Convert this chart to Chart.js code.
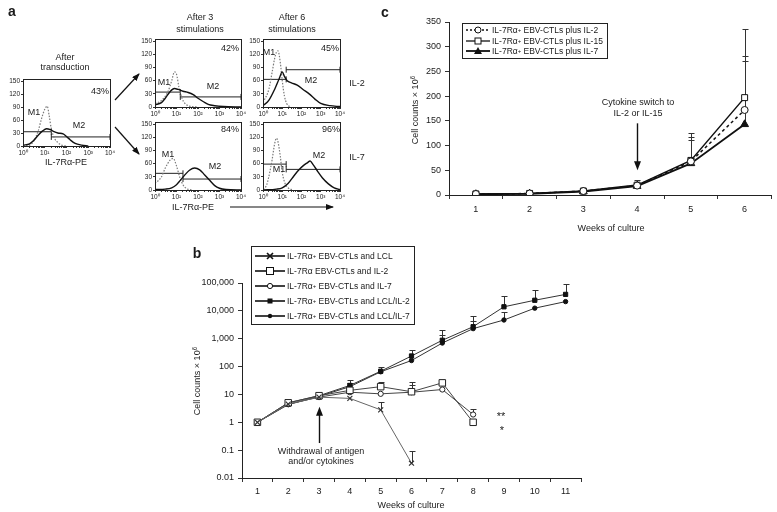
<!DOCTYPE html>
<html>
<head>
<meta charset="utf-8">
<script src="https://cdn.jsdelivr.net/npm/chart.js@4.4.0/dist/chart.umd.min.js"></script>
<style>
  body { margin: 0; background: #fff; }
  #fig { position: relative; width: 777px; height: 512px; overflow: hidden; background: #fff;
         font-family: 'Liberation Sans', Arial, sans-serif; color: #1a1a1a; }
  #fig canvas { position: absolute; }
  .t { position: absolute; white-space: nowrap; transform: translate(-50%, -50%); font-size: 9px; line-height: 1; }
  .pl { font-weight: bold; font-size: 14px; }
  .rot { transform: translate(-50%, -50%) rotate(-90deg); }
  .leg { position: absolute; border: 1px solid #222; background: #fff; padding: 1px 4px 1px 3px; }
  .leg .row { display: flex; align-items: center; white-space: nowrap; }
  .leg svg { flex: none; margin-right: 2px; }
  sup { font-size: 70%; vertical-align: 3px; line-height: 0; }
  #ov { position: absolute; left: 0; top: 0; }
</style>
</head>
<body>
<div id="fig">
  <canvas id="h1"></canvas>
  <canvas id="h2"></canvas>
  <canvas id="h3"></canvas>
  <canvas id="h4"></canvas>
  <canvas id="h5"></canvas>
  <canvas id="cb"></canvas>
  <canvas id="cc"></canvas>

  <svg id="ov" width="777" height="512">
    <defs>
      <marker id="ah" markerWidth="8" markerHeight="6" refX="7" refY="3" orient="auto" markerUnits="userSpaceOnUse">
        <path d="M0,0 L8,3 L0,6 z" fill="#111"/>
      </marker>
    </defs>
    <line x1="115" y1="100" x2="139" y2="74" stroke="#111" stroke-width="1.2" marker-end="url(#ah)"/>
    <line x1="115" y1="127" x2="139" y2="154" stroke="#111" stroke-width="1.2" marker-end="url(#ah)"/>
    <line x1="230" y1="207" x2="333" y2="207" stroke="#111" stroke-width="1.2" marker-end="url(#ah)"/>
  </svg>

  <!-- panel a text -->
  <div class="t pl" style="left:12px;top:11px">a</div>
  <div class="t" style="left:65px;top:57px">After</div>
  <div class="t" style="left:65px;top:67px">transduction</div>
  <div class="t" style="left:200px;top:17px">After 3</div>
  <div class="t" style="left:200px;top:29px">stimulations</div>
  <div class="t" style="left:292px;top:17px">After 6</div>
  <div class="t" style="left:292px;top:29px">stimulations</div>
  <div class="t" style="left:357px;top:83px">IL-2</div>
  <div class="t" style="left:357px;top:157px">IL-7</div>
  <div class="t" style="left:66px;top:162px">IL-7Rα-PE</div>
  <div class="t" style="left:193px;top:207px">IL-7Rα-PE</div>
  <div class="t" style="left:100px;top:91px">43%</div>
  <div class="t" style="left:230px;top:48px">42%</div>
  <div class="t" style="left:330px;top:48px">45%</div>
  <div class="t" style="left:230px;top:129px">84%</div>
  <div class="t" style="left:331px;top:129px">96%</div>
  <div class="t" style="left:34px;top:112px">M1</div>
  <div class="t" style="left:79px;top:125px">M2</div>
  <div class="t" style="left:164px;top:82px">M1</div>
  <div class="t" style="left:213px;top:86px">M2</div>
  <div class="t" style="left:269px;top:52px">M1</div>
  <div class="t" style="left:311px;top:80px">M2</div>
  <div class="t" style="left:168px;top:154px">M1</div>
  <div class="t" style="left:215px;top:166px">M2</div>
  <div class="t" style="left:279px;top:169px">M1</div>
  <div class="t" style="left:319px;top:155px">M2</div>

  <!-- panel b text -->
  <div class="t pl" style="left:197px;top:253px">b</div>
  <div class="t rot" style="left:197px;top:381px">Cell counts × 10<sup>6</sup></div>
  <div class="t" style="left:411px;top:505px">Weeks of culture</div>
  <div class="t" style="left:321px;top:451px">Withdrawal of antigen</div>
  <div class="t" style="left:321px;top:461px">and/or cytokines</div>
  <div class="t" style="left:501px;top:416px;font-size:11px">**</div>
  <div class="t" style="left:502px;top:430px;font-size:11px">*</div>

  <!-- panel c text -->
  <div class="t pl" style="left:385px;top:12px">c</div>
  <div class="t rot" style="left:415px;top:110px">Cell counts × 10<sup>6</sup></div>
  <div class="t" style="left:611px;top:228px">Weeks of culture</div>
  <div class="t" style="left:638px;top:102px">Cytokine switch to</div>
  <div class="t" style="left:638px;top:113px">IL-2 or IL-15</div>

  <div class="leg" style="left:251px;top:246px;font-size:8.5px">
    <div class="row" style="height:15px"><svg width="30" height="10"><line x1="0" y1="5" x2="30" y2="5" stroke="#111" stroke-width="1.6"/><path d="M12,2 L18,8 M18,2 L12,8" stroke="#111" stroke-width="1.6"/></svg>IL-7Rα<sup>+</sup>&nbsp;EBV-CTLs and LCL</div>
    <div class="row" style="height:15px"><svg width="30" height="10"><line x1="0" y1="5" x2="30" y2="5" stroke="#111" stroke-width="1.6"/><rect x="11.5" y="1.5" width="7" height="7" fill="#fff" stroke="#111"/></svg>IL-7Rα EBV-CTLs and IL-2</div>
    <div class="row" style="height:15px"><svg width="30" height="10"><line x1="0" y1="5" x2="30" y2="5" stroke="#111" stroke-width="1.6"/><circle cx="15" cy="5" r="2.6" fill="#fff" stroke="#111"/></svg>IL-7Rα<sup>+</sup>&nbsp;EBV-CTLs and IL-7</div>
    <div class="row" style="height:15px"><svg width="30" height="10"><line x1="0" y1="5" x2="30" y2="5" stroke="#111" stroke-width="1.6"/><rect x="12.5" y="2.5" width="5" height="5" fill="#111"/></svg>IL-7Rα<sup>+</sup>&nbsp;EBV-CTLs and LCL/IL-2</div>
    <div class="row" style="height:15px"><svg width="30" height="10"><line x1="0" y1="5" x2="30" y2="5" stroke="#111" stroke-width="1.6"/><circle cx="15" cy="5" r="2.2" fill="#111"/></svg>IL-7Rα<sup>+</sup>&nbsp;EBV-CTLs and LCL/IL-7</div>
  </div>

  <div class="leg" style="left:462px;top:23px;font-size:8.5px">
    <div class="row" style="height:10.5px"><svg width="24" height="10"><line x1="0" y1="5" x2="24" y2="5" stroke="#111" stroke-width="1.3" stroke-dasharray="2,2"/><circle cx="12" cy="5" r="3" fill="#fff" stroke="#111"/></svg>IL-7Rα<sup>+</sup>&nbsp;EBV-CTLs plus IL-2</div>
    <div class="row" style="height:10.5px"><svg width="24" height="10"><line x1="0" y1="5" x2="24" y2="5" stroke="#111" stroke-width="1.3"/><rect x="9" y="2" width="6" height="6" fill="#fff" stroke="#111"/></svg>IL-7Rα<sup>+</sup>&nbsp;EBV-CTLs plus IL-15</div>
    <div class="row" style="height:10.5px"><svg width="24" height="10"><line x1="0" y1="5" x2="24" y2="5" stroke="#111" stroke-width="1.8"/><path d="M12,1 L16,8 L8,8 z" fill="#111"/></svg>IL-7Rα<sup>+</sup>&nbsp;EBV-CTLs plus IL-7</div>
  </div>
</div>

<script>
// ---------- data: panel a (histograms, [fluorescence, events]) ----------
const histMajor = [1, 10, 100, 1000, 10000];
const histMajorLabels = ['10⁰', '10¹', '10²', '10³', '10⁴'];
const histYTicks = [0, 30, 60, 90, 120, 150];

const transDotted = [[1,0],[2,2],[3,10],[5,35],[7,62],[10,85],[13,92],[16,70],[20,40],[28,18],[40,8],[60,2],[100,0]];
const transSolid  = [[1,2],[2,5],[3,12],[5,25],[8,35],[12,40],[18,38],[25,34],[40,30],[70,28],[100,22],[150,14],[250,6],[500,2],[1000,0]];
const transGates  = [[1,20,33],[20,10000,21]];

const il2s3Dotted = [[1,8],[2,15],[4,35],[6,60],[8,80],[10,75],[13,45],[18,20],[25,8],[40,2],[100,0]];
const il2s3Solid  = [[1,5],[2,10],[3,20],[5,35],[8,42],[12,40],[20,36],[35,33],[60,28],[100,20],[180,12],[300,6],[600,3],[1500,1],[10000,0]];
const il2s3Gates  = [[1,15,34],[15,10000,23]];

const il2s6Dotted = [[1,10],[2,40],[3,80],[4,110],[5,125],[6,128],[8,100],[10,60],[13,25],[17,8],[25,0]];
const il2s6Solid  = [[1,3],[2,15],[4,40],[7,65],[10,80],[13,70],[18,60],[30,55],[60,50],[120,40],[250,30],[500,18],[1000,8],[3000,3],[10000,1]];
const il2s6Gates  = [[1,16,63],[16,10000,85]];

const il7s3Dotted = [[1,15],[2,30],[3,50],[5,68],[7,72],[10,55],[14,30],[20,12],[30,3],[50,0]];
const il7s3Solid  = [[1,1],[3,2],[6,5],[10,12],[15,22],[25,35],[40,45],[70,50],[120,46],[200,35],[350,22],[600,10],[1000,4],[2000,1],[10000,0]];
const il7s3Gates  = [[1,20,38],[20,10000,25]];

const il7s6Dotted = [[1,2],[1.5,10],[2,30],[3,70],[4,105],[5,118],[6,110],[8,75],[10,40],[14,15],[20,5],[35,0]];
const il7s6Solid  = [[1,0],[5,2],[10,5],[20,15],[40,32],[70,45],[120,55],[200,62],[280,66],[400,58],[700,42],[1200,28],[2500,14],[5000,5],[10000,1]];
const il7s6Gates  = [[1,16,59],[16,10000,47]];

// ---------- data: panel b (log scale) ----------
const weeksB = ['1','2','3','4','5','6','7','8','9','10','11'];
const yTicksB = [0.01, 0.1, 1, 10, 100, 1000, 10000, 100000];
const yTickLabelsB = ['0.01', '0.1', '1', '10', '100', '1,000', '10,000', '100,000'];
const lclB      = [1, 4.5, 8, 7.2, 2.8, 0.034, null, null, null, null, null];
const il2B      = [1, 5, 9, 14, 19, 12.5, 26, 1, null, null, null];
const il7B      = [1, 4.5, 8, 12, 10.5, 12, 15, 1.9, null, null, null];
const lclIl2B   = [1, 5, 9, 21, 68, 240, 880, 2700, 14000, 24000, 39000];
const lclIl7B   = [1, 4.3, 8.5, 19, 65, 165, 700, 2300, 4700, 12500, 21500];
const lclErrB   = [null, null, null, null, 5.5, 0.09, null, null, null, null, null];
const il2ErrB   = [null, null, null, null, 28, 27, null, null, null, null, null];
const il7ErrB   = [null, null, null, null, null, 22, null, 3, null, null, null];
const lclIl2ErrB = [null, null, null, 33, 100, 400, 2000, 6500, 33000, 55000, 92000];
const lclIl7ErrB = [null, null, null, 25, null, null, 1400, 4500, 9000, null, null];

// ---------- data: panel c ----------
const weeksC = ['1','2','3','4','5','6'];
const il2C  = [2, 3, 8, 19, 68, 172];
const il15C = [2.2, 3.2, 8, 20, 70, 197];
const il7C  = [1.5, 2.5, 7, 18, 64, 143];
const il2ErrC  = [null, null, null, null, 118, 282];
const il15ErrC = [null, null, null, 30, 125, 335];
const il7ErrC  = [null, null, null, null, 112, 271];

Chart.defaults.font.family = "'Liberation Sans', Arial, sans-serif";
Chart.defaults.color = '#1a1a1a';
Chart.defaults.animation = false;
Chart.defaults.plugins.legend.display = false;
Chart.defaults.plugins.tooltip.enabled = false;

// fixed axis sizes so the plot areas land where they should
const fixW = w => s => { s.width = w; s.paddingTop = 0; s.paddingBottom = 0; };
const fixH = h => s => { s.height = h; s.paddingLeft = 0; s.paddingRight = 0; };

function place(id, left, top, w, h) {
  const cv = document.getElementById(id);
  cv.width = w; cv.height = h;
  cv.style.left = left + 'px'; cv.style.top = top + 'px';
  return cv;
}

// upper error bars with caps, drawn under the markers
const errorBars = {
  id: 'errorBars',
  beforeDatasetsDraw(chart) {
    const ctx = chart.ctx, y = chart.scales.y;
    chart.data.datasets.forEach((ds, i) => {
      if (!ds.errUp) return;
      const meta = chart.getDatasetMeta(i);
      ctx.save();
      ctx.strokeStyle = '#333';
      ctx.lineWidth = 1;
      ds.errUp.forEach((v, j) => {
        if (v == null || ds.data[j] == null) return;
        const p = meta.data[j];
        const top = Math.round(y.getPixelForValue(v)) + 0.5;
        const x = Math.round(p.x) + 0.5;
        ctx.beginPath();
        ctx.moveTo(x, p.y); ctx.lineTo(x, top);
        ctx.moveTo(x - 3, top); ctx.lineTo(x + 3, top);
        ctx.stroke();
      });
      ctx.restore();
    });
  }
};

// vertical annotation arrow at a category
const arrowNote = {
  id: 'arrowNote',
  afterDatasetsDraw(chart, args, o) {
    if (!o || o.index == null) return;
    const ctx = chart.ctx;
    const x = Math.round(chart.scales.x.getPixelForValue(o.index)) + 0.5;
    const y1 = chart.scales.y.getPixelForValue(o.from);
    const y2 = chart.scales.y.getPixelForValue(o.to);
    const d = y2 > y1 ? 1 : -1;
    ctx.save();
    ctx.strokeStyle = '#111'; ctx.fillStyle = '#111'; ctx.lineWidth = 1.4;
    ctx.beginPath(); ctx.moveTo(x, y1); ctx.lineTo(x, y2 - d * 7); ctx.stroke();
    ctx.beginPath(); ctx.moveTo(x, y2); ctx.lineTo(x - 3.5, y2 - d * 9); ctx.lineTo(x + 3.5, y2 - d * 9); ctx.closePath(); ctx.fill();
    ctx.restore();
  }
};

// box round a histogram
const frame = {
  id: 'frame',
  afterDraw(chart) {
    const a = chart.chartArea, ctx = chart.ctx;
    ctx.save();
    ctx.strokeStyle = '#222'; ctx.lineWidth = 1;
    ctx.strokeRect(Math.round(a.left) + 0.5, Math.round(a.top) + 0.5, Math.round(a.right - a.left), Math.round(a.bottom - a.top));
    ctx.restore();
  }
};

const histTicks = [];
histMajor.forEach((m, i) => { histTicks.push(m); if (i < histMajor.length - 1) for (let k = 2; k <= 9; k++) histTicks.push(m * k); });

function makeHist(id, L, T, R, B, dotted, solid, gates) {
  const yW = 18, pT = 5, pR = 9, xH = 12;
  const cv = place(id, L - yW, T - pT, R - L + yW + pR, B - T + pT + xH);
  const toXY = arr => arr.map(p => ({ x: p[0], y: p[1] }));
  const datasets = [
    { data: toXY(solid), borderColor: '#111', borderWidth: 1.4, pointRadius: 0, cubicInterpolationMode: 'monotone' },
    { data: toXY(dotted), borderColor: '#7a7a7a', borderWidth: 1.2, borderDash: [1.5, 1.5], pointRadius: 0, cubicInterpolationMode: 'monotone' }
  ];
  gates.forEach(g => datasets.push({
    data: [{ x: g[0], y: g[2] }, { x: g[1], y: g[2] }],
    borderColor: '#222', borderWidth: 1, pointStyle: 'line', rotation: 90,
    pointRadius: 3, pointBorderColor: '#222', pointBorderWidth: 1
  }));
  return new Chart(cv, {
    type: 'line',
    data: { datasets },
    options: {
      responsive: false,
      layout: { padding: { top: pT, right: pR, left: 0, bottom: 0 } },
      scales: {
        x: {
          type: 'logarithmic', min: 1, max: 10000,
          afterBuildTicks: s => { s.ticks = histTicks.map(v => ({ value: v })); },
          afterFit: fixH(xH),
          ticks: {
            autoSkip: false, maxRotation: 0, padding: 1, font: { size: 6.5 },
            callback: v => { const i = histMajor.indexOf(v); return i >= 0 ? histMajorLabels[i] : ''; }
          },
          grid: { drawOnChartArea: false, tickLength: 2, color: '#333' },
          border: { color: '#222' }
        },
        y: {
          min: 0, max: 155,
          afterBuildTicks: s => { s.ticks = histYTicks.map(v => ({ value: v })); },
          afterFit: fixW(yW),
          ticks: { padding: 1, font: { size: 6.5 } },
          grid: { drawOnChartArea: false, tickLength: 2, color: '#333' },
          border: { color: '#222' }
        }
      }
    },
    plugins: [frame]
  });
}

makeHist('h1', 23, 79, 110, 146, transDotted, transSolid, transGates);
makeHist('h2', 155, 39, 241, 107, il2s3Dotted, il2s3Solid, il2s3Gates);
makeHist('h3', 263, 39, 340, 107, il2s6Dotted, il2s6Solid, il2s6Gates);
makeHist('h4', 155, 122, 241, 190, il7s3Dotted, il7s3Solid, il7s3Gates);
makeHist('h5', 263, 122, 340, 190, il7s6Dotted, il7s6Solid, il7s6Gates);

// ---------- panel b ----------
const axisCommon = {
  grid: { drawOnChartArea: false, tickLength: 4, color: '#333' },
  border: { color: '#222' }
};

new Chart(place('cb', 190, 275, 400, 233), {
  type: 'line',
  data: {
    labels: weeksB,
    datasets: [
      { data: lclB, errUp: lclErrB, borderColor: '#666', borderWidth: 1, pointStyle: 'crossRot', pointRadius: 3.5,
        pointBorderColor: '#333', pointBorderWidth: 1.2, pointBackgroundColor: '#333' },
      { data: il2B, errUp: il2ErrB, borderColor: '#444', borderWidth: 1, pointStyle: 'rect', pointRadius: 4.6,
        pointBorderColor: '#222', pointBorderWidth: 1, pointBackgroundColor: '#fff' },
      { data: il7B, errUp: il7ErrB, borderColor: '#444', borderWidth: 1, pointStyle: 'circle', pointRadius: 2.6,
        pointBorderColor: '#222', pointBorderWidth: 1, pointBackgroundColor: '#fff' },
      { data: lclIl2B, errUp: lclIl2ErrB, borderColor: '#333', borderWidth: 1, pointStyle: 'rect', pointRadius: 3,
        pointBorderColor: '#111', pointBorderWidth: 1, pointBackgroundColor: '#111' },
      { data: lclIl7B, errUp: lclIl7ErrB, borderColor: '#333', borderWidth: 1, pointStyle: 'circle', pointRadius: 2.2,
        pointBorderColor: '#111', pointBorderWidth: 1, pointBackgroundColor: '#111' }
    ]
  },
  options: {
    responsive: false,
    layout: { padding: { top: 8, right: 9, left: 0, bottom: 0 } },
    plugins: { arrowNote: { index: 2, from: 0.18, to: 3.6 } },
    scales: {
      x: Object.assign({
        offset: true, afterFit: fixH(30),
        ticks: { padding: 4, font: { size: 9 } }
      }, axisCommon, { grid: { offset: true, drawOnChartArea: false, tickLength: 4, color: '#333' } }),
      y: Object.assign({
        type: 'logarithmic', min: 0.01, max: 100000, afterFit: fixW(52),
        afterBuildTicks: s => { s.ticks = yTicksB.map(v => ({ value: v })); },
        ticks: { padding: 4, font: { size: 9 }, callback: (v, i) => yTickLabelsB[i] }
      }, axisCommon)
    }
  },
  plugins: [errorBars, arrowNote]
});

// ---------- panel c ----------
new Chart(place('cc', 409, 12, 368, 208), {
  type: 'line',
  data: {
    labels: weeksC,
    datasets: [
      { data: il2C, errUp: il2ErrC, borderColor: '#111', borderWidth: 1.5, borderDash: [3, 3], pointStyle: 'circle', pointRadius: 3.5,
        pointBorderColor: '#111', pointBorderWidth: 1, pointBackgroundColor: '#fff' },
      { data: il15C, errUp: il15ErrC, borderColor: '#111', borderWidth: 1.5, pointStyle: 'rect', pointRadius: 4.2,
        pointBorderColor: '#111', pointBorderWidth: 1, pointBackgroundColor: '#fff' },
      { data: il7C, errUp: il7ErrC, borderColor: '#111', borderWidth: 1.8, pointStyle: 'triangle', pointRadius: 4.5,
        pointBorderColor: '#111', pointBorderWidth: 1, pointBackgroundColor: '#111' }
    ]
  },
  options: {
    responsive: false,
    layout: { padding: { top: 10, right: 5, left: 0, bottom: 0 } },
    plugins: { arrowNote: { index: 3, from: 145, to: 50 } },
    scales: {
      x: {
        offset: true, afterFit: fixH(25),
        ticks: { padding: 5, font: { size: 9 } },
        grid: { offset: true, drawOnChartArea: false, tickLength: 4, color: '#333' },
        border: { color: '#222' }
      },
      y: {
        min: 0, max: 350, afterFit: fixW(40),
        ticks: { stepSize: 50, padding: 4, font: { size: 9 } },
        grid: { drawOnChartArea: false, tickLength: 4, color: '#333' },
        border: { color: '#222' }
      }
    }
  },
  plugins: [errorBars, arrowNote]
});
</script>
</body>
</html>
